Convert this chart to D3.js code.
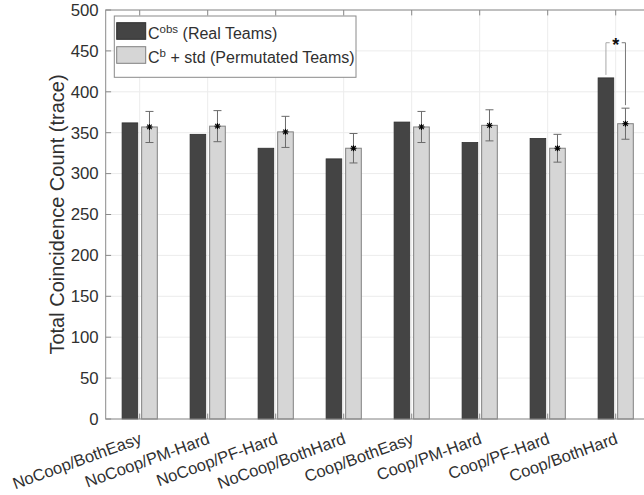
<!DOCTYPE html>
<html>
<head>
<meta charset="utf-8">
<script src="https://cdn.jsdelivr.net/npm/d3@7"></script>
<style>
  html, body { margin: 0; padding: 0; background: #fff; }
  svg { display: block; font-family: "Liberation Sans", Arial, Helvetica, sans-serif; }
</style>
</head>
<body>
<svg id="chart" width="644" height="495"></svg>
<script>
// Conditions along the x axis
const categories = [
  "NoCoop/BothEasy", "NoCoop/PM-Hard", "NoCoop/PF-Hard", "NoCoop/BothHard",
  "Coop/BothEasy", "Coop/PM-Hard", "Coop/PF-Hard", "Coop/BothHard"
];
// Observed coincidence count (real teams)
const observed = [362, 348, 331, 318, 363, 338, 343, 417];
// Mean coincidence count over permutated teams, and its standard deviation
const permMean = [357, 358, 351, 331, 357, 359, 331, 361];
const permStd  = [19, 19, 19, 18, 19, 19, 17, 19];
// Y axis ticks
const yTicks = [0, 50, 100, 150, 200, 250, 300, 350, 400, 450, 500];
// Significant pairs: category index and level of the bracket
const sigIndex = [7];
const sigLevel = [460];

(function () {
const svg = d3.select("#chart");
const axisColor = "#8a8a8a";
const textColor = "#303030";
const gridColor = "#ececec";

const pL = 105.7, pR = 649.7, pT = 10, pB = 419;

const x = d3.scaleBand().domain(categories).range([pL, pR]).paddingInner(0).paddingOuter(0);
const sub = d3.scaleBand().domain(["obs", "perm"]).range([-17.6, 17.6]).paddingInner(0.2);
const y = d3.scaleLinear().domain([0, 500]).range([pB, pT]);
const xc = c => x(c) + x.bandwidth() / 2;

// Grid
const grid = svg.append("g");
grid.selectAll("line.h").data(yTicks).join("line")
  .attr("x1", pL).attr("x2", pR)
  .attr("y1", d => y(d)).attr("y2", d => y(d))
  .attr("stroke", gridColor).attr("stroke-width", 1);
grid.selectAll("line.v").data(categories).join("line")
  .attr("x1", d => xc(d)).attr("x2", d => xc(d))
  .attr("y1", pT).attr("y2", pB)
  .attr("stroke", gridColor).attr("stroke-width", 1);

// Bars
const bars = svg.append("g");
bars.selectAll("rect.obs").data(categories).join("rect")
  .attr("x", (d) => xc(d) + sub("obs"))
  .attr("width", sub.bandwidth())
  .attr("y", (d, i) => y(observed[i]))
  .attr("height", (d, i) => y(0) - y(observed[i]))
  .attr("fill", "#444444").attr("stroke", "#2e2e2e").attr("stroke-width", 0.8);
bars.selectAll("rect.perm").data(categories).join("rect")
  .attr("x", (d) => xc(d) + sub("perm"))
  .attr("width", sub.bandwidth())
  .attr("y", (d, i) => y(permMean[i]))
  .attr("height", (d, i) => y(0) - y(permMean[i]))
  .attr("fill", "#d6d6d6").attr("stroke", "#808080").attr("stroke-width", 1);

// Error bars with mean marker on permutated bars
const eb = svg.append("g").attr("stroke", "#6a6a6a").attr("stroke-width", 1);
categories.forEach((c, i) => {
  const cx = xc(c) + sub("perm") + sub.bandwidth() / 2;
  const y1 = y(permMean[i] + permStd[i]), y2 = y(permMean[i] - permStd[i]);
  eb.append("line").attr("x1", cx).attr("x2", cx).attr("y1", y1).attr("y2", y2);
  eb.append("line").attr("x1", cx - 4).attr("x2", cx + 4).attr("y1", y1).attr("y2", y1);
  eb.append("line").attr("x1", cx - 4).attr("x2", cx + 4).attr("y1", y2).attr("y2", y2);
  const my = y(permMean[i]), r = 3;
  const m = svg.append("g").attr("stroke", "#000").attr("stroke-width", 1.1);
  [[-r, 0, r, 0], [0, -r, 0, r], [-r * 0.75, -r * 0.75, r * 0.75, r * 0.75], [-r * 0.75, r * 0.75, r * 0.75, -r * 0.75]]
    .forEach(s => m.append("line").attr("x1", cx + s[0]).attr("y1", my + s[1]).attr("x2", cx + s[2]).attr("y2", my + s[3]));
});

// Significance brackets
sigIndex.forEach((k, j) => {
  const c = categories[k];
  const xl = xc(c) + sub("obs") + sub.bandwidth() / 2;
  const xr = xc(c) + sub("perm") + sub.bandwidth() / 2;
  const yb = y(sigLevel[j]);
  const mid = xc(c);
  const g = svg.append("g").attr("fill", "none").attr("stroke-width", 1);
  g.append("path").attr("stroke", "#a8a8a8")
    .attr("d", `M${xl},${y(observed[k]) - 3}V${yb}H${mid - 6}`);
  g.append("path").attr("stroke", "#7a7a7a")
    .attr("d", `M${mid + 6},${yb}H${xr}V${y(permMean[k] + permStd[k]) - 3}`);
  svg.append("text").attr("x", mid).attr("y", yb + 8)
    .attr("text-anchor", "middle").attr("font-size", 18).attr("font-weight", "bold")
    .attr("fill", "#111").text("*");
});

// Axes box with inward ticks
const ax = svg.append("g").attr("stroke", axisColor).attr("stroke-width", 1).attr("fill", "none");
ax.append("rect").attr("x", pL).attr("y", pT).attr("width", pR - pL).attr("height", pB - pT);
const tl = 5.4;
yTicks.forEach(t => {
  ax.append("line").attr("x1", pL).attr("x2", pL + tl).attr("y1", y(t)).attr("y2", y(t));
  ax.append("line").attr("x1", pR).attr("x2", pR - tl).attr("y1", y(t)).attr("y2", y(t));
});
categories.forEach(c => {
  ax.append("line").attr("x1", xc(c)).attr("x2", xc(c)).attr("y1", pB).attr("y2", pB - tl);
  ax.append("line").attr("x1", xc(c)).attr("x2", xc(c)).attr("y1", pT).attr("y2", pT + tl);
});

// Y tick labels
svg.append("g").selectAll("text").data(yTicks).join("text")
  .attr("x", pL - 7).attr("y", d => y(d)).attr("dy", "0.35em")
  .attr("text-anchor", "end").attr("font-size", 16.8).attr("fill", textColor)
  .text(d => d);

// X tick labels (rotated)
svg.append("g").selectAll("text").data(categories).join("text")
  .attr("transform", d => `translate(${xc(d) - 1},${pB + 13}) rotate(-20)`)
  .attr("text-anchor", "end").attr("dy", "0.71em")
  .attr("font-size", 16.5).attr("fill", textColor)
  .text(d => d);

// Y axis title
svg.append("text")
  .attr("transform", `translate(64,${(pT + pB) / 2}) rotate(-90)`)
  .attr("text-anchor", "middle").attr("font-size", 20).attr("fill", textColor)
  .text("Total Coincidence Count (trace)");

// Legend
const lg = svg.append("g");
lg.append("rect").attr("x", 114.3).attr("y", 16).attr("width", 241.7).attr("height", 61.3)
  .attr("fill", "#fff").attr("stroke", "#8a8a8a").attr("stroke-width", 1);
lg.append("rect").attr("x", 116.7).attr("y", 22.7).attr("width", 29).attr("height", 16.6)
  .attr("fill", "#444444").attr("stroke", "#2e2e2e");
lg.append("rect").attr("x", 116.7).attr("y", 46.7).attr("width", 29).attr("height", 16.6)
  .attr("fill", "#d6d6d6").attr("stroke", "#808080");
const t1 = lg.append("text").attr("x", 148).attr("y", 38.5).attr("font-size", 16).attr("fill", textColor);
t1.append("tspan").text("C");
t1.append("tspan").attr("font-size", 11.5).attr("dy", -6).text("obs");
t1.append("tspan").attr("dy", 6).text(" (Real Teams)");
const t2 = lg.append("text").attr("x", 148).attr("y", 62.5).attr("font-size", 16).attr("fill", textColor);
t2.append("tspan").text("C");
t2.append("tspan").attr("font-size", 11.5).attr("dy", -6).text("b");
t2.append("tspan").attr("dy", 6).text(" + std (Permutated Teams)");
})();
</script>
</body>
</html>
